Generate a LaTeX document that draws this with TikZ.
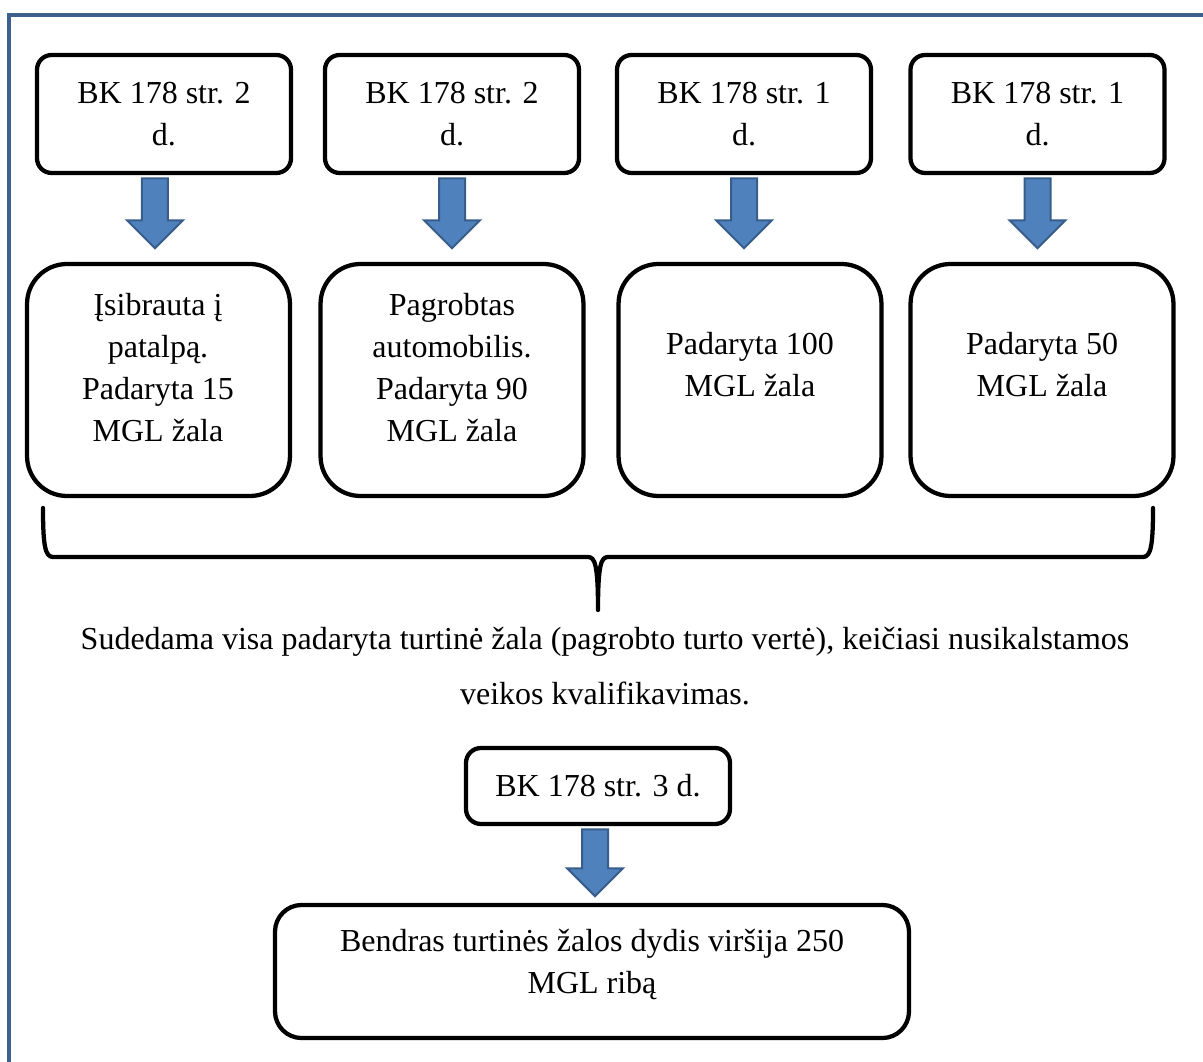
\documentclass[tikz,border=0pt]{standalone}
\usepackage{fontspec}
\setmainfont{Liberation Serif}
\usetikzlibrary{shapes.arrows,calc}

\definecolor{framecol}{RGB}{62,96,140}
\definecolor{arrowfill}{RGB}{79,129,189}
\definecolor{arrowedge}{RGB}{56,93,138}

\tikzset{every picture/.style={line width=0.75pt}}
\tikzset{
  boxtext/.style={align=center, inner sep=0pt, font=\fontsize{12}{15.75}\selectfont},
  topbox/.style={boxtext, draw, line width=1.6pt, rounded corners=5.5pt, minimum width=95.25pt, minimum height=44.25pt},
  midbox/.style={draw, line width=1.6pt, rounded corners=15pt, minimum width=98.6pt, minimum height=87pt, inner sep=0pt},
  smallbox/.style={boxtext, draw, line width=1.6pt, rounded corners=5.6pt, minimum width=99pt, minimum height=28.5pt},
  bigbox/.style={draw, line width=1.6pt, rounded corners=10pt, minimum width=237.75pt, minimum height=49.9pt, inner sep=0pt},
  blockarrow/.style={single arrow, shape border rotate=270, anchor=tail, draw=arrowedge, fill=arrowfill, line width=0.75pt, inner sep=4.5pt, minimum width=20.25pt, single arrow head extend=5.6pt, single arrow tip angle=90, minimum height=26.25pt},
  frameline/.style={draw=framecol, line width=1.4pt},
  bracket/.style={line width=1.6pt, line cap=round, line join=round}
}

\begin{document}
\begin{tikzpicture}[x=0.375pt,y=0.375pt,yscale=-1,xscale=1]
\useasboundingbox (0,0) rectangle (1203,1062);

%Shape: Frame
\draw[frameline] (9,1062) -- (9,15) -- (1203,15);

%Top row
\node[topbox] (t1) at (164,114) {BK 178 str. 2\\d.};
\node[topbox] (t2) at (452,114) {BK 178 str. 2\\d.};
\node[topbox] (t3) at (744,114) {BK 178 str. 1\\d.};
\node[topbox] (t4) at (1037.5,114) {BK 178 str. 1\\d.};

%Middle row
\node[midbox] (m1) at (158.5,380) {};
\node[midbox] (m2) at (452,380) {};
\node[midbox] (m3) at (750,380) {};
\node[midbox] (m4) at (1042,380) {};
% Text Node
\node[boxtext] (m1t) at (158,368) {Įsibrauta į\\patalpą.\\Padaryta 15\\MGL žala};
% Text Node
\node[boxtext] (m2t) at (452,368) {Pagrobtas\\automobilis.\\Padaryta 90\\MGL žala};
% Text Node
\node[boxtext] (m3t) at (750,365) {Padaryta 100\\MGL žala};
% Text Node
\node[boxtext] (m4t) at (1042,365) {Padaryta 50\\MGL žala};

%Arrows
\path (t1.south) -- (m1.north) node[pos=0, blockarrow, xshift=-3.4pt, yshift=-0.8pt] (a1) {};
\path (t2.south) -- (m2.north) node[pos=0, blockarrow, yshift=-0.8pt] (a2) {};
\path (t3.south) -- (m3.north) node[pos=0, blockarrow, yshift=-0.8pt] (a3) {};
\path (t4.south) -- (m4.north) node[pos=0, blockarrow, yshift=-0.8pt] (a4) {};

%Shape: Brace
\draw[bracket] (43,508) .. controls (43,545) and (45,557) .. (53,557) -- (588,557) .. controls (595,557) and (598,565) .. (598,610) .. controls (598,565) and (601,557) .. (608,557) -- (1143,557) .. controls (1151,557) and (1153,545) .. (1153,508);

% Text Node
\node[boxtext, font=\fontsize{12}{20.6}\selectfont] (sum) at (605,666) {Sudedama visa padaryta turtinė žala (pagrobto turto vertė), keičiasi nusikalstamos\\veikos kvalifikavimas.};

%Bottom part
\node[smallbox] (b1) at (598,786) {BK 178 str. 3 d.};
\node[bigbox] (b2) at (592,971.5) {};
% Text Node
\node[boxtext] (b2t) at (592,965) {Bendras turtinės žalos dydis viršija 250\\MGL ribą};
\path (b1.south) -- (b2.north) node[pos=0, blockarrow, minimum height=25.1pt, xshift=-1.1pt, yshift=-0.8pt] (a5) {};

\end{tikzpicture}
\end{document}
